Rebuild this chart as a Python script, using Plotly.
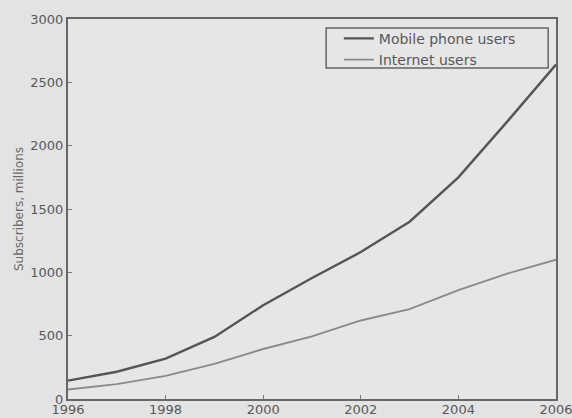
import plotly.graph_objects as go

years = [1996, 1997, 1998, 1999, 2000, 2001, 2002, 2003, 2004, 2005, 2006]
mobile_users = [145, 215, 318, 490, 740, 955, 1160, 1400, 1750, 2190, 2640]
internet_users = [75, 117, 183, 277, 395, 495, 620, 710, 860, 990, 1100]
x_ticks = [1996, 1998, 2000, 2002, 2004, 2006]
y_ticks = [0, 500, 1000, 1500, 2000, 2500, 3000]

fig = go.Figure()
fig.add_trace(go.Scatter(x=years, y=mobile_users, mode="lines",
                         name="Mobile phone users",
                         line=dict(color="#555555", width=2.4)))
fig.add_trace(go.Scatter(x=years, y=internet_users, mode="lines",
                         name="Internet users",
                         line=dict(color="#8a8a8a", width=1.9)))

axis_common = dict(showgrid=False, zeroline=False, showline=True, mirror=True,
                   linecolor="#666666", linewidth=2, ticks="inside", ticklen=4,
                   tickcolor="#7a7a7a", ticklabeloverflow="allow", automargin=False,
                   tickfont=dict(family="DejaVu Sans", size=13, color="#585858"))

# legend frame drawn as a rectangle so the box hugs the two entries
fig.add_shape(type="rect", xref="paper", yref="paper",
              x0=0.529, x1=0.984, y0=0.871, y1=0.976,
              line=dict(color="#666666", width=1.5), fillcolor="rgba(0,0,0,0)",
              layer="above")

fig.update_layout(
    width=572, height=418,
    margin=dict(l=68, r=16, t=19, b=19),
    paper_bgcolor="#e3e3e3", plot_bgcolor="#e6e6e6",
    xaxis=dict(range=[1996, 2006], tickvals=x_ticks, ticklabelstandoff=-3,
               **axis_common),
    yaxis=dict(range=[0, 3000], tickvals=y_ticks,
               title=dict(text="Subscribers, millions", standoff=4,
                          font=dict(family="DejaVu Sans", size=12, color="#6a6a6a")),
               **axis_common),
    legend=dict(x=0.555, y=0.990, xanchor="left", yanchor="top",
                bgcolor="rgba(0,0,0,0)", borderwidth=0,
                font=dict(family="DejaVu Sans", size=14, color="#585858"),
                tracegroupgap=0, itemwidth=30),
    showlegend=True,
)

fig.write_html("out.html")
